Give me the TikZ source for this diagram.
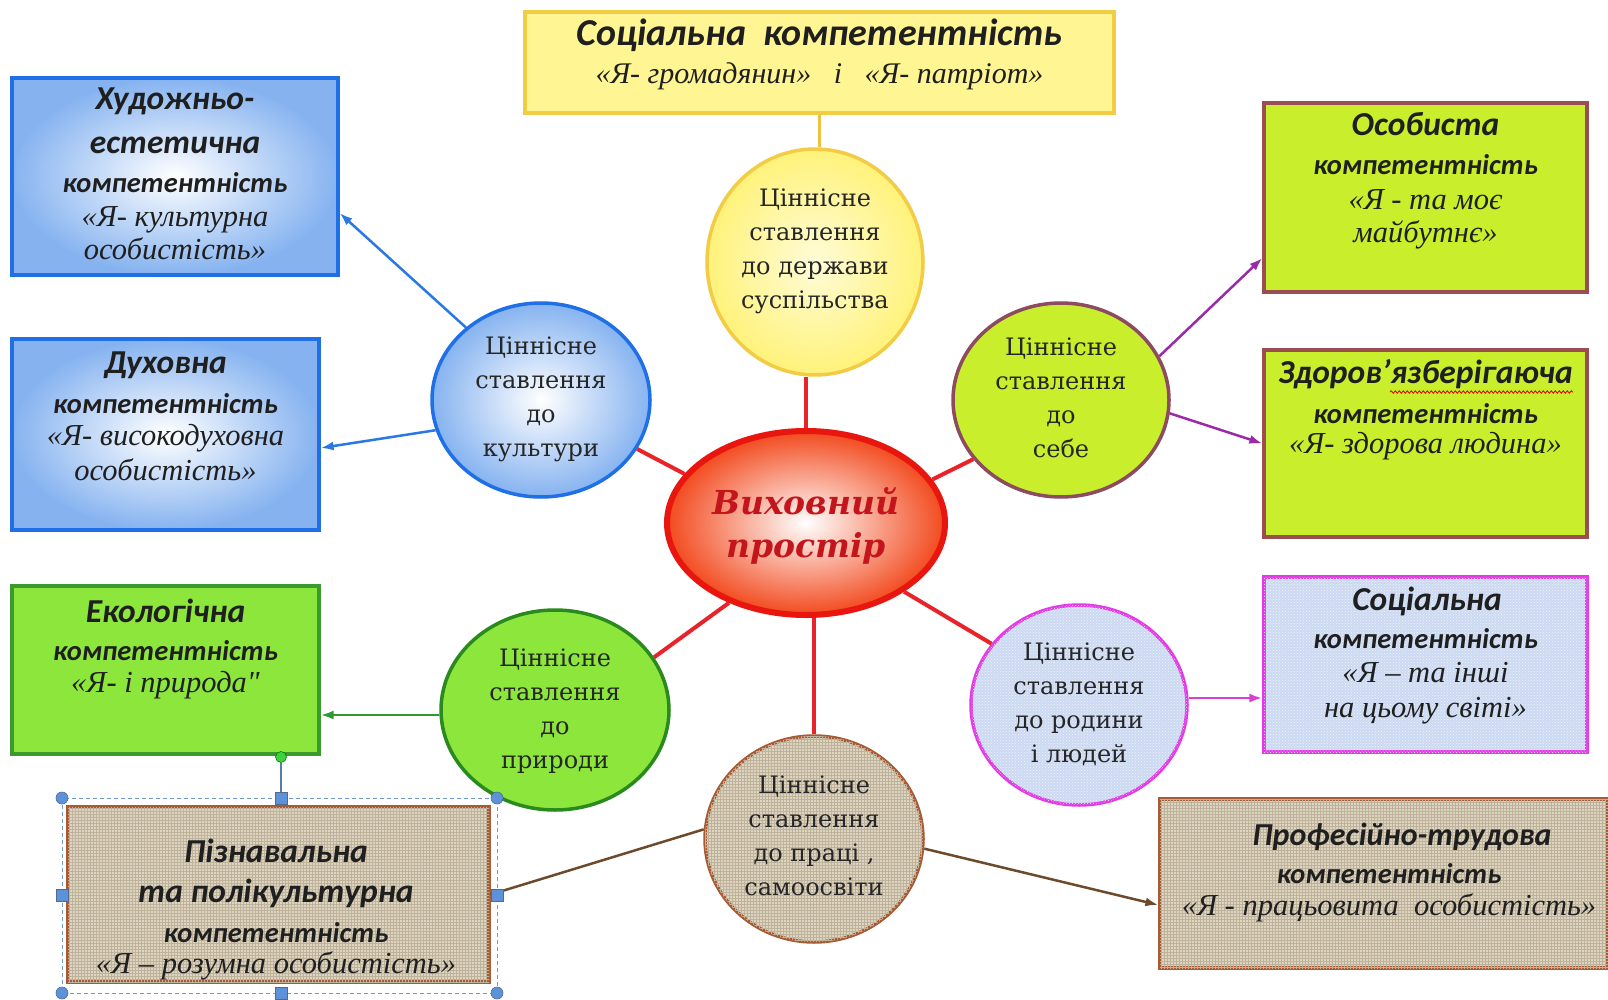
\documentclass[tikz,border=0pt]{standalone}
\usepackage{fontspec}
\setmainfont{DejaVu Serif}
\newfontfamily\titlef{Carlito}
\newfontfamily\quof{Liberation Serif}
\newfontfamily\circf{DejaVu Serif}
\usetikzlibrary{arrows.meta,shapes.geometric,patterns,decorations.pathmorphing}

\newcommand\ttlA{\titlef\bfseries\itshape\fontsize{33.5}{40}\selectfont}
\newcommand\ttlB{\titlef\bfseries\itshape\fontsize{38}{40}\selectfont}
\newcommand\ttlC{\titlef\bfseries\itshape\fontsize{32}{40}\selectfont}
\newcommand\kmp{\titlef\bfseries\itshape\fontsize{28.5}{36}\selectfont}
\newcommand\quo{\quof\itshape\fontsize{30.5}{33}\selectfont}
\newcommand\quoB{\quof\itshape\fontsize{30}{33}\selectfont}
\newcommand\tline[5]{\node[tl, font=#4] (#1) at (#2,#3) {#5};}

\definecolor{yfill}{HTML}{FFF592}
\definecolor{yborder}{HTML}{F2CC45}
\definecolor{ycin}{HTML}{FFFCD8}
\definecolor{ycout}{HTML}{FFF27A}
\definecolor{bluefill}{HTML}{86B3F0}
\definecolor{blueborder}{HTML}{1F70E6}
\definecolor{ekofill}{HTML}{8DE63C}
\definecolor{ekoborder}{HTML}{3A9A2E}
\definecolor{gcborder}{HTML}{2A8A1E}
\definecolor{limefill}{HTML}{C8EE2C}
\definecolor{limeborder}{HTML}{9A4E52}
\definecolor{scborder}{HTML}{8C4B5E}
\definecolor{lavfill}{HTML}{CCD9F2}
\definecolor{magborder}{HTML}{E23BE6}
\definecolor{burlap}{HTML}{DED4C2}
\definecolor{burlapdk}{HTML}{BFB29A}
\definecolor{brownborder}{HTML}{A85A34}
\definecolor{cenfill}{HTML}{F24A1E}
\definecolor{cenborder}{HTML}{E8160E}
\definecolor{cenred}{HTML}{C4141C}
\definecolor{redline}{HTML}{E8242A}
\definecolor{goldline}{HTML}{F0C040}
\definecolor{arrblue}{HTML}{2A78E4}
\definecolor{arrgreen}{HTML}{2E9A2E}
\definecolor{arrpurple}{HTML}{9A2AA8}
\definecolor{arrmag}{HTML}{DA3FD0}
\definecolor{arrbrown}{HTML}{6E4A2C}
\definecolor{selblue}{HTML}{6F9AD2}
\definecolor{handle}{HTML}{5E92D8}
\definecolor{handleg}{HTML}{3FD23F}

\begin{document}
\begin{tikzpicture}[x=1pt,y=-1pt,
  box/.style={rectangle, inner sep=0pt, line width=3.2pt},
  ell/.style={ellipse, inner sep=0pt, line width=3.5pt},
  tl/.style={anchor=base, inner sep=0pt, text=black!88},
  ctxt/.style={align=center, inner sep=0pt, text=black!85, font=\circf\fontsize{24}{34}\selectfont},
  rl/.style={draw=redline, line width=4pt},
  arr/.style={line width=2.5pt, -{Latex[length=13pt,width=9pt]}},
  burl/.style={fill=burlap, postaction={pattern=grid, pattern color=burlapdk}},
  hcirc/.style={circle, fill=handle, draw=selblue!70!black, line width=0.6pt, minimum size=12pt, inner sep=0pt},
  hsq/.style={rectangle, fill=handle, draw=selblue!70!black, line width=0.6pt, minimum size=12pt, inner sep=0pt},
  hgrn/.style={circle, fill=handleg, draw=green!50!black, line width=0.6pt, minimum size=11pt, inner sep=0pt},
]
\useasboundingbox[fill=white] (0,0) rectangle (1608,1000);

% ---------- boxes ----------
\node[box, draw=yborder, fill=yfill, minimum width=589pt, minimum height=101pt] (top) at (819.5,62.5) {};
\node[box, draw=blueborder, shade, inner color=white, outer color=bluefill, minimum width=326pt, minimum height=197pt] (khud) at (175,176.5) {};
\node[box, draw=blueborder, shade, inner color=white, outer color=bluefill, minimum width=307pt, minimum height=191pt] (dukh) at (165.5,434.5) {};
\node[box, draw=ekoborder, fill=ekofill, minimum width=307pt, minimum height=168pt] (eko) at (165.5,670) {};
\node[box, draw=brownborder, burl, minimum width=421pt, minimum height=175pt] (pizn) at (278.5,894.5) {};
\node[box, draw=limeborder, fill=limefill, minimum width=323pt, minimum height=189pt] (osob) at (1425.5,197.5) {};
\node[box, draw=limeborder, fill=limefill, minimum width=323pt, minimum height=187pt] (zdor) at (1425.5,443.5) {};
\node[box, draw=magborder, fill=lavfill, postaction={pattern=crosshatch dots, pattern color=white!70!lavfill}, minimum width=323pt, minimum height=175pt] (socr) at (1425.5,664.5) {};
\node[box, draw=brownborder, burl, minimum width=448pt, minimum height=169pt] (prof) at (1384,883.5) {};

% ---------- box texts (one node per line, at its baseline) ----------
\tline{top1}{819.5}{46}{\ttlB}{Соціальна\ \ компетентність}
\tline{top2}{819.5}{84}{\quoB}{«Я- громадянин»\ \ \ і\ \ \ «Я- патріот»}

\tline{khud1}{175}{110}{\ttlA}{Художньо-}
\tline{khud2}{175}{154}{\ttlA}{естетична}
\tline{khud3}{175}{193}{\kmp}{компетентність}
\tline{khud4}{175}{227}{\quo}{«Я- культурна}
\tline{khud5}{175}{260}{\quo}{особистість»}

\tline{dukh1}{165.5}{373}{\ttlA}{Духовна}
\tline{dukh2}{165.5}{413}{\kmp}{компетентність}
\tline{dukh3}{165.5}{445}{\quo}{«Я- високодуховна}
\tline{dukh4}{165.5}{480}{\quo}{особистість»}

\tline{eko1}{165.5}{622}{\ttlA}{Екологічна}
\tline{eko2}{165.5}{660}{\kmp}{компетентність}
\tline{eko3}{165.5}{692}{\quo}{«Я- і природа"}

\tline{pizn1}{276}{862}{\ttlA}{Пізнавальна}
\tline{pizn2}{276}{902}{\ttlA}{та полікультурна}
\tline{pizn3}{276}{942}{\kmp}{компетентність}
\tline{pizn4}{276}{973}{\quo}{«Я – розумна особистість»}

\tline{osob1}{1425.5}{136}{\ttlA}{Особиста}
\tline{osob2}{1425.5}{175}{\kmp}{компетентність}
\tline{osob3}{1425.5}{210}{\quo}{«Я - та моє}
\tline{osob4}{1425.5}{243}{\quo}{майбутнє»}

\tline{zdor1}{1425.5}{383}{\ttlA}{Здоров’язберігаюча}
\tline{zdor2}{1425.5}{423}{\kmp}{компетентність}
\tline{zdor3}{1425.5}{453}{\quo}{«Я- здорова людина»}

\tline{socr1}{1427}{610}{\ttlA}{Соціальна}
\tline{socr2}{1425.5}{648}{\kmp}{компетентність}
\tline{socr3}{1425.5}{682}{\quo}{«Я – та інші}
\tline{socr4}{1425.5}{717}{\quo}{на цьому світі»}

\tline{prof1}{1402}{845}{\ttlC}{Професійно-трудова}
\tline{prof2}{1389}{883}{\kmp}{компетентність}
\tline{prof3}{1389}{915}{\quo}{«Я - працьовита\ \ особистість»}

% spell-check underline
\draw[red!85!black, line width=0.8pt, decorate, decoration={snake, amplitude=1.2pt, segment length=4pt}] (1390,392) -- (1573,392);

% ---------- circles ----------
\node[ell, draw=yborder, shade, inner color=ycin, outer color=ycout, minimum width=216pt, minimum height=226pt] (yc) at (815,262) {};
\node[ell, draw=blueborder, shade, inner color=white, outer color=bluefill, minimum width=218pt, minimum height=194pt] (bc) at (541,400) {};
\node[ell, draw=scborder, fill=limefill, minimum width=216pt, minimum height=194pt] (sc) at (1061,400) {};
\node[ell, draw=gcborder, fill=ekofill, minimum width=228pt, minimum height=200pt] (gc) at (555,710) {};
\node[ell, draw=magborder, fill=lavfill, postaction={pattern=crosshatch dots, pattern color=white!70!lavfill}, minimum width=216pt, minimum height=200pt] (rc) at (1079,705) {};
\node[ell, draw=brownborder, burl, minimum width=218pt, minimum height=206pt] (brc) at (814,839) {};
\node[ell, draw=cenborder, line width=6pt, shade, inner color=white, outer color=cenfill, minimum width=278pt, minimum height=184pt] (cen) at (806,523) {};

\node[ctxt] (yct) at (815,251) {Ціннісне\\ставлення\\до держави\\суспільства};
\node[ctxt] (bct) at (541,399) {Ціннісне\\ставлення\\до\\культури};
\node[ctxt] (sct) at (1061,398) {Ціннісне\\ставлення\\до\\себе};
\node[ctxt] (gct) at (555,711) {Ціннісне\\ставлення\\до\\природи};
\node[ctxt] (rct) at (1079,704) {Ціннісне\\ставлення\\до родини\\і людей};
\node[ctxt] (brct) at (814,836) {Ціннісне\\ставлення\\до праці ,\\самоосвіти};
\node[align=center, inner sep=0pt, text=cenred, font=\circf\bfseries\itshape\fontsize{33}{43}\selectfont] (cent) at (806,526) {Виховний\\простір};

% ---------- connectors ----------
\draw[draw=goldline, line width=2.5pt] (top.south) -- (top.south |- yc.north);
\draw[rl] (cen.north) -- (cen.north |- yc.south);
\draw[rl] (cen.158) -- (bc.333);
\draw[rl] (cen.19) -- (sc.214);
\draw[rl] (cen.226) -- (gc.28);
\draw[rl] (cen.325) -- (rc.145);
\draw[rl] (brc.north) -- (brc.north |- cen.south);

\draw[arr, arrblue] (bc.136) -- ([yshift=-36.5pt]khud.east);
\draw[arr, arrblue] (bc.196) -- ([yshift=-13.5pt]dukh.east);
\draw[arr, arrgreen] ([yshift=-5pt]gc.west) -- ([yshift=-5pt]gc.west -| eko.east);
\draw[line width=2.5pt, arrbrown] (brc.175) -- (pizn.east);
\draw[arr, arrbrown] (brc.355) -- ([yshift=-21.5pt]prof.west);
\draw[arr, arrpurple] (sc.24) -- ([yshift=-60.5pt]osob.west);
\draw[arr, arrpurple] (sc.353) -- (zdor.west);
\coordinate (socin) at ([yshift=-33.5pt]socr.west);
\draw[arr, arrmag] (rc.east |- socin) -- (socin);

% ---------- selection handles ----------
\coordinate (s1) at (62,798);
\coordinate (s2) at (497,993);
\draw[selblue, line width=1pt, dash pattern=on 4pt off 3pt] (s1) rectangle (s2);
\node[hgrn] (rot) at (281,757) {};
\node[hsq] (hT) at (281,798) {};
\draw[selblue!80!black, line width=1.5pt] (rot) -- (hT);
\node[hcirc] (h1) at (62,798) {};
\node[hcirc] (h2) at (497,798) {};
\node[hcirc] (h3) at (62,993) {};
\node[hcirc] (h4) at (497,993) {};
\node[hsq] (hL) at (62,895.5) {};
\node[hsq] (hR) at (497,895.5) {};
\node[hsq] (hB) at (281,993) {};
\end{tikzpicture}
\end{document}
